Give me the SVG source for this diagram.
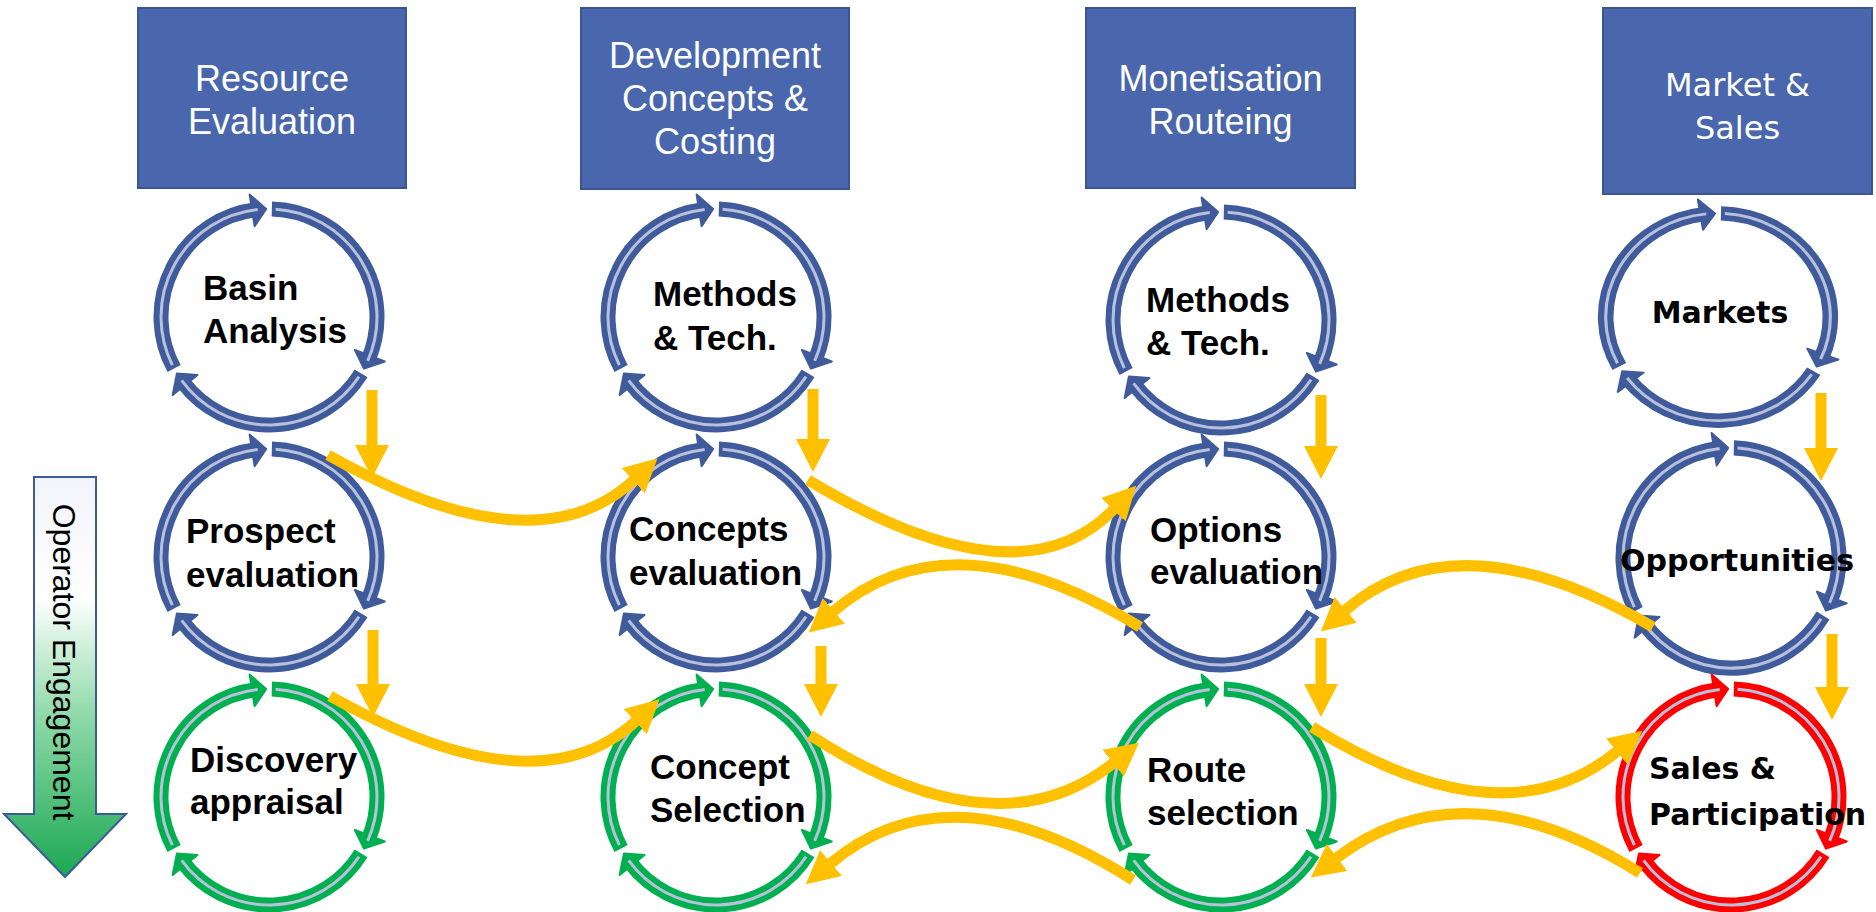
<svg xmlns="http://www.w3.org/2000/svg" width="1876" height="912" viewBox="0 0 1876 912">
<style>
.hdr{fill:#4A67AD;stroke:#3A5591;stroke-width:2}
.ht{font-family:"Liberation Sans",Arial,sans-serif;font-size:36px;fill:#fff;text-anchor:middle}
.mt{font-family:"DejaVu Sans",Verdana,sans-serif;font-size:32px;fill:#fff;text-anchor:middle}
.lbl{font-family:"Liberation Sans",Arial,sans-serif;font-weight:bold;font-size:35px;fill:#000}
.lbl2{font-family:"DejaVu Sans",Verdana,sans-serif;font-weight:bold;font-size:30px;fill:#000}
.band{fill:none;stroke:currentColor;stroke-width:15}
.head{fill:currentColor;stroke:currentColor;stroke-width:2;stroke-linejoin:round}
.stripe{fill:none;stroke:#B9C0DC;stroke-width:3}
.blue{color:#3F5B9B}
.green{color:#00B050}
.red{color:#FF0000}
.conn{fill:none;stroke:#FFC000;stroke-width:11;marker-end:url(#ah)}
</style>
<defs>
<marker id="ah" markerUnits="userSpaceOnUse" viewBox="0 0 34 34" markerWidth="34" markerHeight="34" refX="1" refY="17" orient="auto">
<path d="M0,0 L33,17 L0,34 z" fill="#FFC000"/>
</marker>
<linearGradient id="opg" gradientUnits="userSpaceOnUse" x1="0" y1="477" x2="0" y2="877">
<stop offset="0" stop-color="#F2F4FA"/>
<stop offset="0.3" stop-color="#FFFFFF"/>
<stop offset="0.6" stop-color="#8ED9A8"/>
<stop offset="1" stop-color="#1AA852"/>
</linearGradient>
<g id="ring">
<path class="band" d="M-94.91,51.54 A108,108 0 0 1 -13.17,-107.19"/>
<path class="band" d="M2.83,-107.97 A108,108 0 0 1 99.41,42.20"/>
<path class="band" d="M92.08,56.43 A108,108 0 0 1 -86.25,64.99"/>
<path class="head" d="M-19.39,-122.47 L-2.83,-107.97 L-14.39,-90.87 Z"/>
<path class="head" d="M115.77,44.44 L94.91,51.54 L85.89,32.97 Z"/>
<path class="head" d="M-96.36,78.03 L-92.08,56.43 L-71.49,57.90 Z"/>
<path class="stripe" d="M-96.65,48.19 A108,108 0 0 1 -11.29,-107.41"/>
<path class="stripe" d="M6.59,-107.79 A108,108 0 0 1 98.66,43.92"/>
<path class="stripe" d="M90.06,59.61 A108,108 0 0 1 -87.37,63.48"/>
</g>
</defs>
<rect width="1876" height="912" fill="#fff"/>

<g id="hdr-resource"><rect class="hdr" x="138" y="8" width="268" height="180"/><text class="ht" x="272" y="91">Resource</text><text class="ht" x="272" y="134">Evaluation</text></g>
<g id="hdr-development"><rect class="hdr" x="581" y="8" width="268" height="181"/><text class="ht" x="715" y="68">Development</text><text class="ht" x="715" y="111">Concepts &amp;</text><text class="ht" x="715" y="154">Costing</text></g>
<g id="hdr-monetisation"><rect class="hdr" x="1086" y="8" width="269" height="180"/><text class="ht" x="1220.5" y="91">Monetisation</text><text class="ht" x="1220.5" y="134">Routeing</text></g>
<g id="hdr-market"><rect class="hdr" x="1603" y="8" width="269" height="186"/><text class="mt" x="1737.5" y="96">Market &amp;</text><text class="mt" x="1737.5" y="139">Sales</text></g>

<g id="operator-engagement">
<path d="M34,477 H96 V814 H126 L65,877 L4,814 H34 Z" fill="url(#opg)" stroke="#3D5A99" stroke-width="2"/>
<text transform="translate(53,662) rotate(90)" text-anchor="middle" font-family="Liberation Sans, Arial, sans-serif" font-size="32" fill="#000">Operator Engagement</text>
</g>

<g id="n-basin" class="blue"><use href="#ring" transform="translate(269,317)"/><text class="lbl" x="203" y="300">Basin</text><text class="lbl" x="203" y="343">Analysis</text></g>
<g id="n-prospect" class="blue"><use href="#ring" transform="translate(269,557)"/><text class="lbl" x="186" y="543">Prospect</text><text class="lbl" x="186" y="587">evaluation</text></g>
<g id="n-discovery" class="green"><use href="#ring" transform="translate(269,797)"/><text class="lbl" x="190" y="772">Discovery</text><text class="lbl" x="190" y="814">appraisal</text></g>

<g id="n-methods1" class="blue"><use href="#ring" transform="translate(716,317)"/><text class="lbl" x="653" y="306">Methods</text><text class="lbl" x="653" y="350">&amp; Tech.</text></g>
<g id="n-concepts" class="blue"><use href="#ring" transform="translate(716,557)"/><text class="lbl" x="629" y="541">Concepts</text><text class="lbl" x="629" y="585">evaluation</text></g>
<g id="n-concept-sel" class="green"><use href="#ring" transform="translate(716,797)"/><text class="lbl" x="650" y="779">Concept</text><text class="lbl" x="650" y="822">Selection</text></g>

<g id="n-methods2" class="blue"><use href="#ring" transform="translate(1221,320)"/><text class="lbl" x="1146" y="312">Methods</text><text class="lbl" x="1146" y="355">&amp; Tech.</text></g>
<g id="n-options" class="blue"><use href="#ring" transform="translate(1221,557)"/><text class="lbl" x="1150" y="542">Options</text><text class="lbl" x="1150" y="584">evaluation</text></g>
<g id="n-route" class="green"><use href="#ring" transform="translate(1221,797)"/><text class="lbl" x="1147" y="782">Route</text><text class="lbl" x="1147" y="825">selection</text></g>

<g id="n-markets" class="blue"><use href="#ring" transform="translate(1718,317) scale(1.04,0.96)"/><text class="lbl2" x="1720" y="323" text-anchor="middle">Markets</text></g>
<g id="n-opportunities" class="blue"><use href="#ring" transform="translate(1731,558) scale(1,1.02)"/><text class="lbl2" x="1620" y="571">Opportunities</text></g>
<g id="n-sales" class="red"><use href="#ring" transform="translate(1731,797)"/><text class="lbl2" x="1649" y="779">Sales &amp;</text><text class="lbl2" x="1649" y="825">Participation</text></g>

<g id="connectors">
<path class="conn" d="M372,390 V446"/>
<path class="conn" d="M373,630 V685"/>
<path class="conn" d="M813,389 V440"/>
<path class="conn" d="M821,646 V685"/>
<path class="conn" d="M1321,395 V447"/>
<path class="conn" d="M1321,638 V685"/>
<path class="conn" d="M1821,393 V449"/>
<path class="conn" d="M1832,634 V688"/>
<path class="conn" d="M328,455 Q534.6,571.4 634,480"/>
<path class="conn" d="M330,696 Q536.6,812.4 636,721"/>
<path class="conn" d="M808,480 Q1019.9,607.4 1114,509"/>
<path class="conn" d="M1140,627 Q951,510.8 833.1,611.6"/>
<path class="conn" d="M810,735 Q996.3,856.4 1114,762.6"/>
<path class="conn" d="M1133,880 Q949.6,763.3 830.3,863.7"/>
<path class="conn" d="M1653,627 Q1457.9,513.2 1345,610.5"/>
<path class="conn" d="M1312,727 Q1503.2,845.3 1617.6,751"/>
<path class="conn" d="M1640,873 Q1462.9,762.3 1336.3,858.1"/>
</g>
</svg>
